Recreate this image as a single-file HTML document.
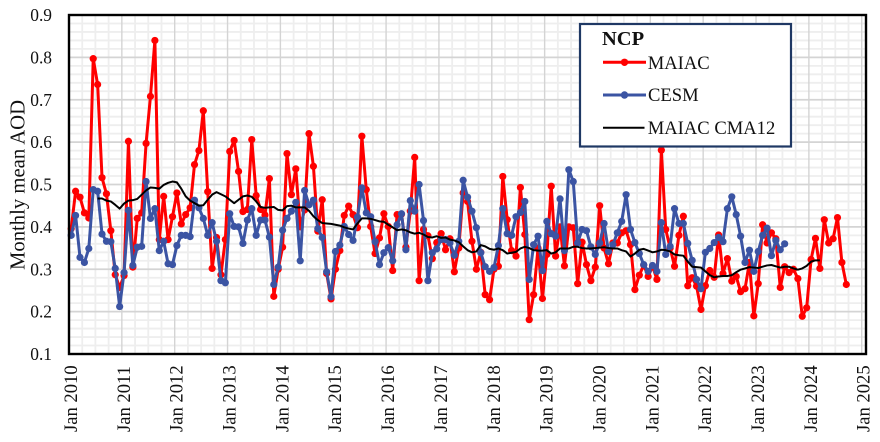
<!DOCTYPE html>
<html>
<head>
<meta charset="utf-8">
<title>NCP Monthly mean AOD</title>
<style>
html,body{margin:0;padding:0;background:#fff;}
#wrap{width:880px;height:442px;overflow:hidden;position:relative;background:#fff;}
svg{display:block;}
text{font-family:"Liberation Serif",serif;fill:#111;}
</style>
</head>
<body>
<div id="wrap">
<svg id="chart" width="880" height="442" viewBox="0 0 880 442">
  <g id="grid"></g>
  <g id="series"></g>
  <rect x="69" y="15" width="797" height="339" fill="none" stroke="#000" stroke-width="2.4"/>
  <g id="yticks"></g>
  <g id="xticks"></g>
  <text transform="translate(24.5,185) rotate(-90)" text-anchor="middle" font-size="20.7">Monthly mean AOD</text>
  <g>
    <rect x="580" y="24" width="211" height="122.5" fill="#fff" stroke="#1f3864" stroke-width="2.2"/>
    <text x="602" y="45" font-size="20.5" font-weight="bold">NCP</text>
    <line x1="603" y1="62.3" x2="646" y2="62.3" stroke="#ff0000" stroke-width="3"/>
    <circle cx="624.5" cy="62.3" r="3.7" fill="#ff0000"/>
    <text x="647.7" y="69" font-size="18.6">MAIAC</text>
    <line x1="603" y1="95" x2="646" y2="95" stroke="#3b54a3" stroke-width="3"/>
    <circle cx="624.5" cy="95" r="3.7" fill="#3b54a3"/>
    <text x="648" y="101" font-size="18.6">CESM</text>
    <line x1="603" y1="127.7" x2="644.5" y2="127.7" stroke="#000" stroke-width="2"/>
    <text x="647.7" y="134" font-size="18.6">MAIAC CMA12</text>
  </g>
</svg>
</div>
<script>
// Monthly values; index 0 = Jan 2010
const maiacValues = [
0.396,0.484,0.470,0.433,0.421,0.797,0.736,0.516,0.478,0.391,0.287,0.257,
0.285,0.602,0.305,0.420,0.433,0.597,0.708,0.840,0.370,0.472,0.370,0.424,
0.480,0.407,0.429,0.445,0.547,0.580,0.674,0.483,0.302,0.375,0.287,0.370,
0.578,0.604,0.531,0.436,0.441,0.606,0.474,0.441,0.428,0.514,0.236,0.300,
0.352,0.573,0.476,0.537,0.400,0.440,0.620,0.543,0.390,0.464,0.290,0.230,
0.300,0.344,0.427,0.449,0.429,0.398,0.614,0.488,0.401,0.337,0.374,0.431,
0.401,0.297,0.429,0.430,0.352,0.437,0.564,0.273,0.394,0.379,0.325,0.363,
0.384,0.346,0.372,0.294,0.350,0.480,0.460,0.366,0.300,0.340,0.240,0.228,
0.300,0.307,0.519,0.417,0.344,0.331,0.493,0.382,0.181,0.240,0.350,0.231,
0.335,0.496,0.331,0.400,0.308,0.400,0.398,0.266,0.364,0.311,0.273,0.305,
0.450,0.350,0.313,0.362,0.362,0.386,0.391,0.358,0.252,0.286,0.310,0.283,
0.307,0.276,0.581,0.394,0.350,0.307,0.380,0.425,0.261,0.280,0.260,0.205,
0.261,0.297,0.281,0.381,0.290,0.325,0.272,0.283,0.247,0.254,0.316,0.190,
0.266,0.405,0.362,0.386,0.372,0.257,0.306,0.292,0.300,0.278,0.189,0.209,
0.323,0.373,0.302,0.417,0.362,0.372,0.422,0.316,0.264
];
const cesmValues = [
0.380,0.427,0.328,0.316,0.349,0.488,0.484,0.383,0.366,0.365,0.302,0.212,
0.292,0.439,0.309,0.352,0.354,0.507,0.420,0.443,0.344,0.366,0.313,0.311,
0.356,0.380,0.380,0.377,0.463,0.445,0.420,0.380,0.410,0.366,0.273,0.268,
0.431,0.401,0.400,0.361,0.416,0.443,0.380,0.416,0.416,0.376,0.264,0.305,
0.392,0.420,0.437,0.458,0.320,0.486,0.452,0.463,0.396,0.375,0.294,0.235,
0.342,0.357,0.401,0.382,0.368,0.423,0.492,0.433,0.424,0.365,0.311,0.339,
0.351,0.320,0.405,0.431,0.346,0.462,0.437,0.500,0.415,0.273,0.339,0.348,
0.370,0.370,0.362,0.333,0.366,0.510,0.470,0.437,0.398,0.339,0.306,0.295,
0.304,0.356,0.443,0.384,0.380,0.424,0.434,0.460,0.276,0.358,0.378,0.297,
0.413,0.384,0.378,0.466,0.344,0.535,0.507,0.362,0.394,0.391,0.353,0.335,
0.362,0.408,0.342,0.358,0.386,0.413,0.476,0.394,0.363,0.337,0.311,0.295,
0.309,0.295,0.410,0.335,0.354,0.443,0.408,0.408,0.361,0.321,0.276,0.254,
0.340,0.349,0.363,0.375,0.365,0.443,0.471,0.429,0.378,0.316,0.345,0.295,
0.342,0.380,0.397,0.332,0.368,0.346,0.360
];
// 12-month centred moving average; first value is at index 6 (Jul 2010)
const cmaStartMonth = 6;
const cmaValues = [
0.467,0.467,0.462,0.460,0.452,0.443,
0.455,0.462,0.463,0.466,0.476,0.486,0.493,0.492,0.490,0.499,0.504,0.507,
0.505,0.490,0.472,0.462,0.456,0.450,0.451,0.464,0.476,0.482,0.477,0.472,
0.464,0.456,0.464,0.472,0.474,0.471,0.460,0.447,0.445,0.446,0.447,0.440,
0.439,0.449,0.450,0.446,0.446,0.446,0.438,0.425,0.416,0.409,0.408,0.407,
0.405,0.403,0.399,0.396,0.394,0.408,0.420,0.420,0.419,0.416,0.413,0.412,
0.405,0.399,0.392,0.394,0.392,0.387,0.384,0.386,0.382,0.376,0.375,0.378,
0.374,0.375,0.370,0.368,0.364,0.354,0.345,0.340,0.342,0.357,0.354,0.348,
0.346,0.349,0.345,0.337,0.339,0.341,0.349,0.353,0.350,0.345,0.344,0.344,
0.345,0.337,0.340,0.349,0.349,0.349,0.353,0.353,0.350,0.349,0.349,0.350,
0.351,0.352,0.350,0.349,0.349,0.345,0.342,0.330,0.337,0.346,0.348,0.344,
0.340,0.342,0.346,0.345,0.342,0.335,0.333,0.332,0.318,0.306,0.305,0.304,
0.295,0.286,0.281,0.283,0.284,0.284,0.286,0.293,0.299,0.302,0.305,0.304,
0.303,0.306,0.309,0.310,0.307,0.304,0.306,0.306,0.302,0.299,0.302,0.308,
0.318,0.321,0.321
];
const yTickLabels = ["0.1","0.2","0.3","0.4","0.5","0.6","0.7","0.8","0.9"];
const xTickLabels = ["Jan 2010","Jan 2011","Jan 2012","Jan 2013","Jan 2014","Jan 2015","Jan 2016","Jan 2017","Jan 2018","Jan 2019","Jan 2020","Jan 2021","Jan 2022","Jan 2023","Jan 2024","Jan 2025"];

const NS = "http://www.w3.org/2000/svg";
const plotLeft = 69, plotRight = 866, plotTop = 15, plotBottom = 354;
const monthWidth = 4.404;

function xAxis(month) { return plotLeft + monthWidth * month; }
function yAxis(value) { return plotBottom - (value - 0.1) / 0.8 * (plotBottom - plotTop); }

function make(tag, attrs, parent) {
  const el = document.createElementNS(NS, tag);
  for (const key in attrs) el.setAttribute(key, attrs[key]);
  parent.appendChild(el);
  return el;
}

const grid = document.getElementById("grid");
const seriesGroup = document.getElementById("series");
const yTicks = document.getElementById("yticks");
const xTicks = document.getElementById("xticks");
const lastAxisMonth = (xTickLabels.length - 1) * 12;

// minor grid
for (let i = 0; i <= 40; i++) {
  if (i % 5 === 0) continue;
  const y = yAxis(0.1 + i * 0.02);
  const line = make("line", {x1: plotLeft, x2: plotRight, y1: y, y2: y, stroke: "#eeeeee", "stroke-width": 1.8}, grid);
  
  
}
for (let m = 3; m <= lastAxisMonth; m += 3) {
  if (m % 12 === 0) continue;
  const x = xAxis(m);
  const line = make("line", {x1: x, x2: x, y1: plotTop, y2: plotBottom, stroke: "#eeeeee", "stroke-width": 1.8}, grid);
  
  
}
// major grid and tick labels
yTickLabels.forEach(function (label) {
  const y = yAxis(parseFloat(label));
  const line = make("line", {x1: plotLeft, x2: plotRight, y1: y, y2: y, stroke: "#d4d4d4", "stroke-width": 1.7}, grid);
  
  
  const text = make("text", {x: 52, y: y + 6, "text-anchor": "end", "font-size": 17.4}, yTicks);
  
  
  text.textContent = label;
});
xTickLabels.forEach(function (label, i) {
  const x = xAxis(i * 12);
  const line = make("line", {x1: x, x2: x, y1: plotTop, y2: plotBottom, stroke: "#d4d4d4", "stroke-width": 1.4}, grid);
  
  
  const text = make("text", {transform: "translate(" + (x + 8) + ",432) rotate(-90)", "font-size": 18.6}, xTicks);
  
  
  text.textContent = label;
});

function pointsFor(values, startMonth) {
  return values.map(function (v, i) {
    return xAxis(startMonth + i + 0.5).toFixed(2) + "," + yAxis(v).toFixed(2);
  }).join(" ");
}

// MAIAC
const maiacLine = make("polyline", {points: pointsFor(maiacValues, 0), fill: "none", stroke: "#ff0000", "stroke-width": 3, "stroke-linejoin": "round"}, seriesGroup);


maiacValues.forEach(function (v, i) {
  const dot = make("circle", {cx: xAxis(i + 0.5), cy: yAxis(v), r: 3.6, fill: "#ff0000"}, seriesGroup);
  
  
});
// CESM
const cesmLine = make("polyline", {points: pointsFor(cesmValues, 0), fill: "none", stroke: "#3b54a3", "stroke-width": 3, "stroke-linejoin": "round"}, seriesGroup);


cesmValues.forEach(function (v, i) {
  const dot = make("circle", {cx: xAxis(i + 0.5), cy: yAxis(v), r: 3.6, fill: "#3b54a3"}, seriesGroup);
  
  
});
// CMA12
const cmaLine = make("polyline", {points: pointsFor(cmaValues, cmaStartMonth), fill: "none", stroke: "#000", "stroke-width": 2, "stroke-linejoin": "round"}, seriesGroup);


</script>
</body>
</html>
